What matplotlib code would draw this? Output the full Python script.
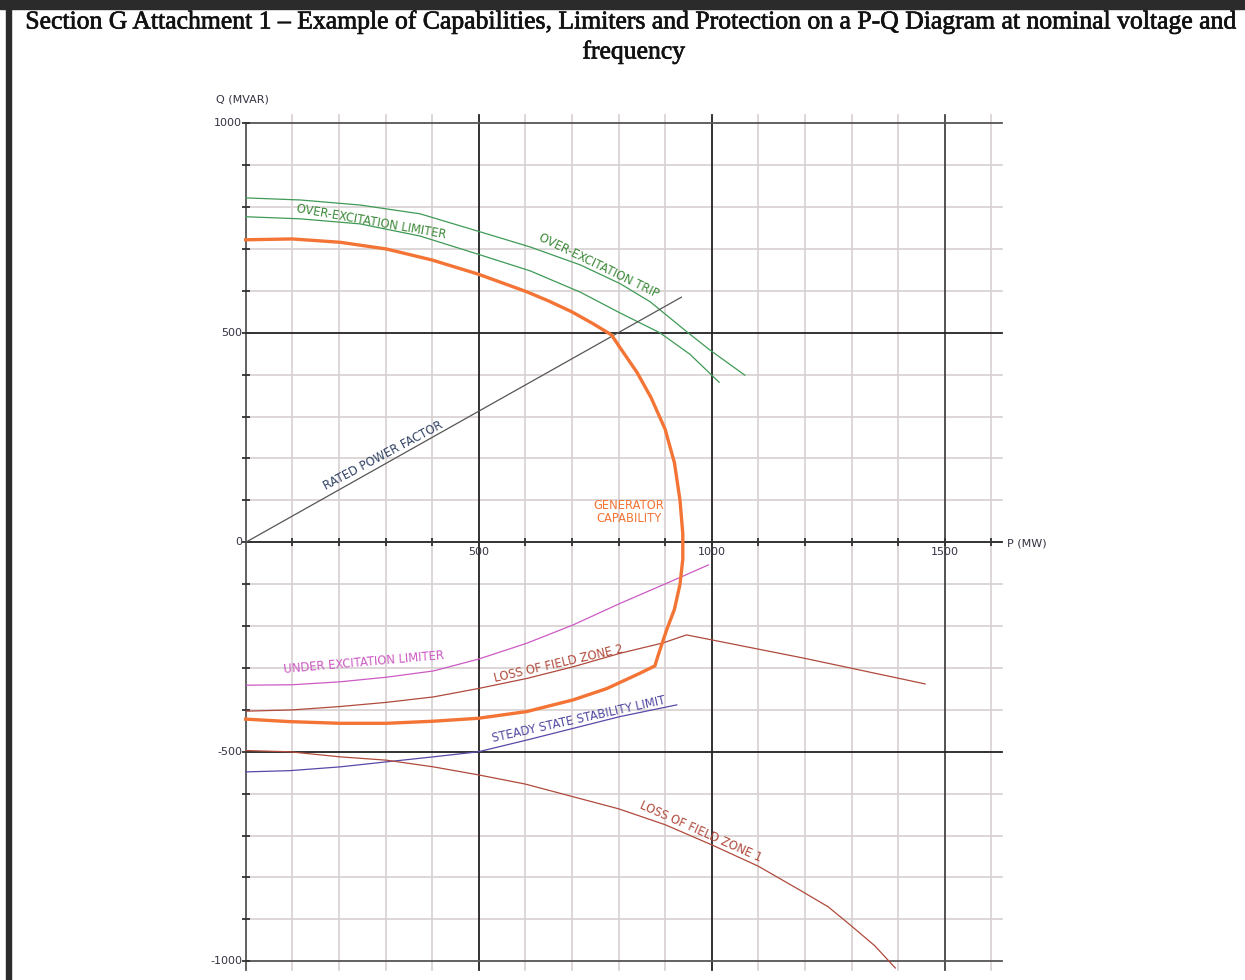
import matplotlib.pyplot as plt
import matplotlib.patheffects as pe
from matplotlib.patches import Rectangle

# ---- data (P in MW, Q in MVAR) ----
gen_p = [0, 100, 203, 302, 399, 499, 603, 650, 700, 745, 785, 800, 840, 870, 900, 920,
         932, 938, 938, 932, 920, 903, 885, 878, 845, 775, 703, 603, 499, 403, 302,
         202, 95, 0]
gen_q = [722, 724, 716, 700, 674, 640, 598, 576, 550, 522, 495, 470, 405, 345, 270, 190,
         100, 20, -40, -100, -160, -210, -270, -295, -313, -349, -376, -404, -420, -427,
         -432, -432, -428, -422]

oet_p = [0, 117, 245, 374, 503, 610, 718, 804, 868, 946, 996, 1071]
oet_q = [822, 817, 805, 784, 741, 705, 662, 617, 574, 503, 459, 399]

oel_p = [0, 117, 245, 374, 503, 610, 718, 804, 889, 953, 1016]
oel_q = [777, 772, 760, 731, 686, 648, 597, 547, 500, 449, 382]

rpf_p = [0, 935]
rpf_q = [0, 585]

uel_p = [2, 100, 202, 302, 403, 499, 603, 703, 803, 903, 993]
uel_q = [-341, -340, -333, -322, -307, -279, -241, -197, -146, -98, -54]

lof2_p = [2, 100, 202, 302, 403, 499, 603, 703, 803, 896, 946, 1200, 1458]
lof2_q = [-403, -400, -392, -382, -369, -349, -325, -297, -265, -240, -221, -277, -338]

sssl_p = [0, 95, 202, 302, 403, 499, 603, 703, 803, 925]
sssl_q = [-548, -545, -536, -524, -512, -500, -472, -444, -416, -388]

lof1_p = [0, 95, 202, 302, 403, 499, 600, 800, 900, 1000, 1100, 1189, 1250, 1297, 1350, 1394]
lof1_q = [-497, -500, -512, -520, -536, -555, -577, -636, -674, -722, -773, -830, -870,
          -913, -963, -1016]

p_ticks = [500, 1000, 1500]
q_ticks = [1000, 500, 0, -500, -1000]

# ---- layout: pixel anchors of the diagram ----
W, H = 1245, 980
X0, PX_P = 245.7, 233.0 / 500
Y0, PX_Q = 542.3, 209.5 / 500
XLIM = (-20, 1640)
YLIM = (-1040, 1030)

fig = plt.figure(figsize=(W / 100, H / 100), dpi=100)
left = X0 + XLIM[0] * PX_P
right = X0 + XLIM[1] * PX_P
top = Y0 - YLIM[1] * PX_Q
bottom = Y0 - YLIM[0] * PX_Q
ax = fig.add_axes([left / W, 1 - bottom / H, (right - left) / W, (bottom - top) / H])
ax.set_xlim(*XLIM)
ax.set_ylim(*YLIM)
ax.axis('off')

# page frame
fig.patches.append(Rectangle((0, 1 - 9 / H), 1, 9 / H, transform=fig.transFigure,
                             color='#2b2b2b', zorder=0))
fig.patches.append(Rectangle((6 / W, 0), 5 / W, 1, transform=fig.transFigure,
                             color='#2b2b2b', zorder=0))

title_font = dict(family='Liberation Serif', fontsize=18.5, color='#111111', ha='center',
                  va='center', path_effects=[pe.withStroke(linewidth=0.5, foreground='#111111')])
fig.text(633 / W, 1 - 22 / H, 'Section G Attachment 1 \u2013 Example of Capabilities, Limiters and '
         'Protection on a P-Q Diagram at nominal voltage and', **title_font)
fig.text(634 / W, 1 - 52 / H, 'frequency', **title_font)

# ---- grid ----
grid_c = '#d8d0d0'
for p in range(100, 1700, 100):
    if p in p_ticks:
        continue
    ax.plot([p, p], [-1020, 1020], color=grid_c, lw=1.2, zorder=1)
for q in range(-900, 1000, 100):
    if q in q_ticks:
        continue
    ax.plot([0, 1622], [q, q], color=grid_c, lw=1.2, zorder=1)
for p in p_ticks:
    ax.plot([p, p], [-1020, 1020], color='#222222' if p < 1500 else '#444444', lw=1.3, zorder=2)
for q in q_ticks:
    c = '#222222' if abs(q) < 1000 else '#555555'
    ax.plot([0, 1622], [q, q], color=c, lw=1.3, zorder=2)
ax.plot([0, 0], [-1020, 1000], color='#555555', lw=1.3, zorder=2)

# small tick marks on the axes
ax.plot([0] * 21, list(range(-1000, 1001, 100)), ls='none', marker='_', ms=6,
        mew=1.3, color='#333333', zorder=3)
ax.plot(list(range(100, 1700, 100)), [0] * 16, ls='none', marker='|', ms=6,
        mew=1.3, color='#333333', zorder=3)

# tick labels
lab = dict(fontsize=8, color='#333344', family='DejaVu Sans')
for q in q_ticks:
    ax.text(-8, q, str(q), ha='right', va='center', **lab)
for p in p_ticks:
    ax.text(p, -22, str(p), ha='center', va='center', **lab)
ax.text(1634, -2, 'P (MW)', ha='left', va='center', **lab)
ax.text(-64, 1056, 'Q (MVAR)', ha='left', va='center', **lab)

# ---- curves ----
green = '#3f9a55'
ax.plot(oet_p, oet_q, color=green, lw=0.9, zorder=4)
ax.plot(oel_p, oel_q, color=green, lw=0.9, zorder=4)
ax.plot(rpf_p, rpf_q, color='#555555', lw=0.9, zorder=4)
ax.plot(uel_p, uel_q, color='#cc5ac4', lw=0.9, zorder=4)
ax.plot(lof2_p, lof2_q, color='#b04a3c', lw=0.9, zorder=4)
ax.plot(sssl_p, sssl_q, color='#5a48a8', lw=0.9, zorder=4)
ax.plot(lof1_p, lof1_q, color='#b04a3c', lw=0.9, zorder=4)
ax.plot(gen_p, gen_q, color='#f37435', lw=2.4, zorder=5, solid_joinstyle='round')

# ---- curve labels ----
cl = dict(fontsize=8.3, family='DejaVu Sans', ha='center', va='center',
          rotation_mode='anchor', zorder=6)
ax.text(270, 765, 'OVER-EXCITATION LIMITER', color='#3d8a3a', rotation=-10, **cl)
ax.text(757, 660, 'OVER-EXCITATION TRIP', color='#3d8a3a', rotation=-26, **cl)
ax.text(295, 206, 'RATED POWER FACTOR', color='#334466', rotation=28, **cl)
ax.text(822, 73, 'GENERATOR\nCAPABILITY', color='#f37435', rotation=0, linespacing=1.0, **cl)
ax.text(254, -288, 'UNDER EXCITATION LIMITER', color='#cc5ac4', rotation=5, **cl)
ax.text(671, -290, 'LOSS OF FIELD ZONE 2', color='#b04a3c', rotation=13, **cl)
ax.text(714, -422, 'STEADY STATE STABILITY LIMIT', color='#5048a0', rotation=12.5, **cl)
ax.text(976, -690, 'LOSS OF FIELD ZONE 1', color='#b04a3c', rotation=-24, **cl)

fig.savefig('out.png', dpi=100)
